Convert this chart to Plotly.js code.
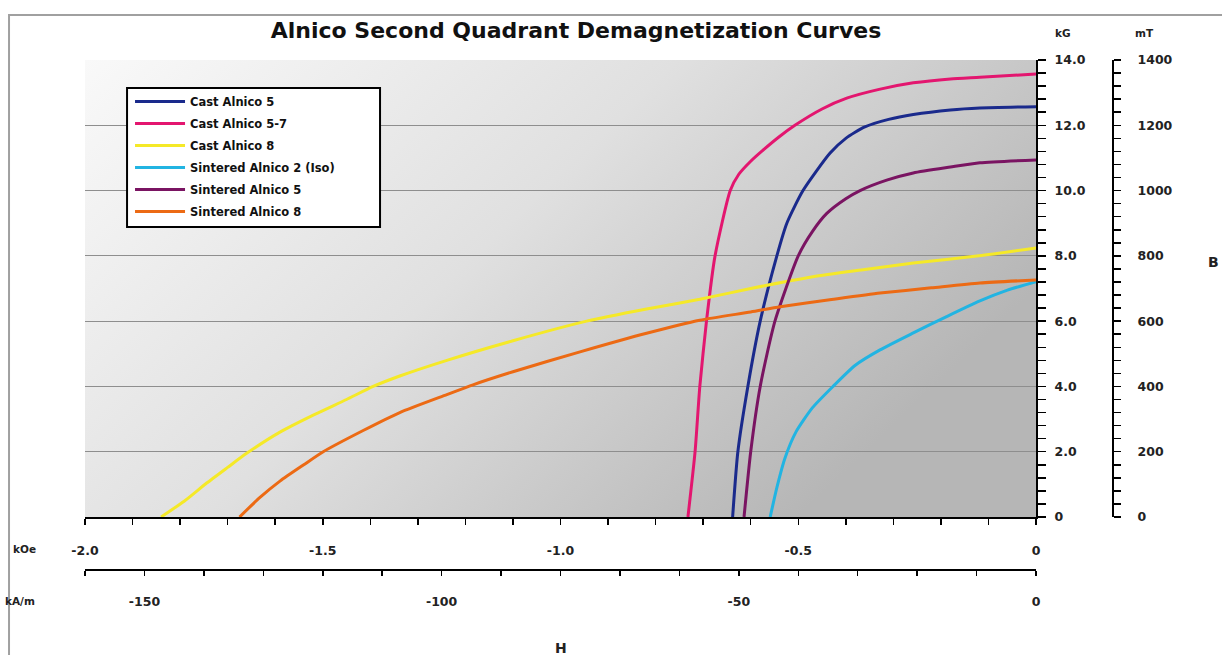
<!DOCTYPE html>
<html>
<head>
<meta charset="utf-8">
<script src="https://cdn.plot.ly/plotly-3.0.1.min.js"></script>
<style>html,body{margin:0;padding:0;background:#fff;}#chart{width:1222px;height:655px;}</style>
</head>
<body>
<div id="chart"></div>
<script>
// ---- Data (H in kOe, B in kG) ----
const seriesNames = ['Cast Alnico 5', 'Cast Alnico 5-7', 'Cast Alnico 8',
                     'Sintered Alnico 2 (Iso)', 'Sintered Alnico 5', 'Sintered Alnico 8'];
const seriesColors = ['#1a2a8c', '#e3166f', '#f5e928', '#22b4e2', '#7a1462', '#ec6a14'];

const castAlnico5_H  = [-0.638, -0.627, -0.606, -0.580, -0.545, -0.524, -0.490, -0.433, -0.400, -0.360, -0.310, -0.258, -0.180, -0.118, 0];
const castAlnico5_B  = [0, 2.0, 4.0, 6.0, 8.0, 9.0, 10.0, 11.15, 11.6, 11.95, 12.18, 12.33, 12.47, 12.53, 12.57];

const castAlnico57_H = [-0.732, -0.717, -0.707, -0.693, -0.675, -0.643, -0.625, -0.600, -0.574, -0.540, -0.507, -0.450, -0.398, -0.330, -0.258, -0.180, -0.118, 0];
const castAlnico57_B = [0, 2.0, 4.0, 6.0, 8.0, 10.0, 10.5, 10.9, 11.24, 11.65, 12.0, 12.5, 12.83, 13.1, 13.3, 13.42, 13.47, 13.57];

const castAlnico8_H  = [-1.840, -1.790, -1.744, -1.700, -1.660, -1.590, -1.520, -1.450, -1.394, -1.338, -1.239, -1.100, -0.945, -0.819, -0.707, -0.600, -0.469, -0.360, -0.258, -0.120, 0];
const castAlnico8_B  = [0, 0.5, 1.04, 1.52, 1.95, 2.6, 3.12, 3.6, 4.0, 4.32, 4.80, 5.40, 6.0, 6.37, 6.67, 7.0, 7.36, 7.58, 7.78, 8.0, 8.24];

const sintAlnico2_H  = [-0.559, -0.545, -0.528, -0.505, -0.470, -0.427, -0.380, -0.328, -0.258, -0.188, -0.118, -0.060, 0];
const sintAlnico2_B  = [0, 0.9, 1.8, 2.6, 3.35, 4.0, 4.65, 5.12, 5.64, 6.14, 6.62, 6.95, 7.21];

const sintAlnico5_H  = [-0.614, -0.600, -0.580, -0.549, -0.500, -0.470, -0.440, -0.400, -0.370, -0.314, -0.258, -0.180, -0.118, 0];
const sintAlnico5_B  = [0, 2.0, 4.0, 6.0, 8.0, 8.75, 9.3, 9.75, 10.0, 10.32, 10.54, 10.72, 10.85, 10.94];

const sintAlnico8_H  = [-1.675, -1.632, -1.590, -1.540, -1.499, -1.415, -1.338, -1.239, -1.184, -1.100, -0.959, -0.819, -0.707, -0.600, -0.538, -0.430, -0.328, -0.220, -0.118, 0];
const sintAlnico8_B  = [0, 0.6, 1.1, 1.6, 2.0, 2.65, 3.2, 3.75, 4.05, 4.45, 5.06, 5.63, 6.03, 6.28, 6.44, 6.66, 6.86, 7.02, 7.17, 7.26];

// ---- Tick labels ----
const kOeTickVals   = [-2.0, -1.5, -1.0, -0.5, 0];
const kOeTickText   = ['-2.0', '-1.5', '-1.0', '-0.5', '0'];
const kAmTickVals   = [-150, -100, -50, 0];
const kAmTickText   = ['-150', '-100', '-50', '0'];
const kGTickVals    = [0, 2, 4, 6, 8, 10, 12, 14];
const kGTickText    = ['0', '2.0', '4.0', '6.0', '8.0', '10.0', '12.0', '14.0'];
const mTTickVals    = [0, 200, 400, 600, 800, 1000, 1200, 1400];
const mTTickText    = ['0', '200', '400', '600', '800', '1000', '1200', '1400'];

const seriesH = [castAlnico5_H, castAlnico57_H, castAlnico8_H, sintAlnico2_H, sintAlnico5_H, sintAlnico8_H];
const seriesB = [castAlnico5_B, castAlnico57_B, castAlnico8_B, sintAlnico2_B, sintAlnico5_B, sintAlnico8_B];

const traces = seriesNames.map((name, i) => ({
  type: 'scatter', mode: 'lines', name: name,
  x: seriesH[i], y: seriesB[i], xaxis: 'x', yaxis: 'y',
  line: {color: seriesColors[i], width: 3, shape: 'spline', smoothing: 0.6},
  legendgroup: 'g' + i
}));
// empty trace so that the secondary (kA/m, mT) axes get their own subplot
traces.push({type: 'scatter', mode: 'lines', x: [], y: [], xaxis: 'x2', yaxis: 'y2', showlegend: false, hoverinfo: 'skip'});

const gradSvg = '<svg xmlns="http://www.w3.org/2000/svg" width="100" height="100" viewBox="0 0 100 100" preserveAspectRatio="none">' +
  '<defs><linearGradient id="g" x1="0" y1="0" x2="1" y2="0.5">' +
  '<stop offset="0" stop-color="#f9f9f9"/><stop offset="0.5" stop-color="#e0e0e0"/><stop offset="1" stop-color="#b6b6b6"/>' +
  '</linearGradient></defs><rect x="0" y="0" width="100" height="100" fill="url(#g)"/></svg>';
const gradUri = 'data:image/svg+xml;charset=utf-8,' + encodeURIComponent(gradSvg);

const FONT = 'DejaVu Sans, Verdana, sans-serif';
const tickBase = {
  showline: true, linecolor: '#000', linewidth: 2,
  ticks: 'outside', tickcolor: '#000', tickwidth: 1.5,
  tickmode: 'array', showgrid: false, zeroline: false, fixedrange: true,
  tickfont: {family: FONT, size: 12.5, color: '#222', weight: 'bold'}
};

const annBase = {xref: 'paper', yref: 'paper', showarrow: false, xanchor: 'center', yanchor: 'middle'};

const layout = {
  width: 1222, height: 655,
  margin: {l: 85, r: 109, t: 60, b: 85, pad: 0},
  paper_bgcolor: '#fff', plot_bgcolor: 'rgba(0,0,0,0)',
  font: {family: FONT, size: 11, color: '#222'},
  showlegend: true,
  title: {
    text: '<b>Alnico Second Quadrant Demagnetization Curves</b>',
    font: {family: FONT, size: 22, color: '#111'},
    xref: 'container', yref: 'container', x: 0.4714, y: 0.954, xanchor: 'center', yanchor: 'middle'
  },
  xaxis: Object.assign({}, tickBase, {
    domain: [0, 0.9251], range: [-2, 0], anchor: 'y',
    tickvals: kOeTickVals, ticktext: kOeTickText, ticklen: 6, ticklabelstandoff: 15,
    minor: {dtick: 0.1, tick0: 0, ticks: 'outside', ticklen: 6, tickwidth: 1.5, tickcolor: '#000', showgrid: false}
  }),
  xaxis2: Object.assign({}, tickBase, {
    overlaying: 'x', anchor: 'free', position: 0, side: 'bottom', range: [-160, 0],
    tickvals: kAmTickVals, ticktext: kAmTickText, ticklen: 5, ticklabelstandoff: 15,
    minor: {dtick: 10, tick0: 0, ticks: 'outside', ticklen: 5, tickwidth: 1.5, tickcolor: '#000', showgrid: false}
  }),
  yaxis: Object.assign({}, tickBase, {
    domain: [0.1039, 1], range: [0, 14], anchor: 'x', side: 'right',
    tickvals: kGTickVals, ticktext: kGTickText, ticklen: 8, ticklabelstandoff: 6,
    showgrid: true, gridcolor: '#8e8e8e', gridwidth: 1,
    minor: {dtick: 0.4, tick0: 0, ticks: 'outside', ticklen: 8, tickwidth: 1.5, tickcolor: '#000', showgrid: false}
  }),
  yaxis2: Object.assign({}, tickBase, {
    overlaying: 'y', anchor: 'free', position: 1, side: 'right', range: [0, 1400],
    tickvals: mTTickVals, ticktext: mTTickText, ticklen: 7, ticklabelstandoff: 14,
    minor: {dtick: 40, tick0: 0, ticks: 'outside', ticklen: 7, tickwidth: 1.5, tickcolor: '#000', showgrid: false}
  }),
  legend: {
    x: 0.0438, y: 0.947, xanchor: 'left', yanchor: 'top',
    bgcolor: 'rgba(0,0,0,0)', borderwidth: 0,
    font: {family: FONT, size: 11.5, color: '#111', weight: 'bold'},
    traceorder: 'grouped', tracegroupgap: 3, itemwidth: 50
  },
  images: [{
    source: gradUri, xref: 'x', yref: 'y', x: -2, y: 14, sizex: 2, sizey: 14,
    sizing: 'stretch', layer: 'below', xanchor: 'left', yanchor: 'top'
  }],
  shapes: [
    {type: 'rect', xref: 'paper', yref: 'paper', x0: -0.0739, x1: 1.3, y0: -0.3, y1: 1.0882,
     line: {color: '#a0a0a0', width: 2}, fillcolor: 'rgba(0,0,0,0)'},
    // legend frame
    {type: 'rect', xref: 'paper', yref: 'paper', x0: 0.0409, x1: 0.2870, y0: 0.6725, y1: 0.9451,
     line: {color: '#000', width: 2}, fillcolor: '#fff', layer: 'above'}
  ],
  annotations: [
    Object.assign({}, annBase, {text: '<b>kG</b>', x: 0.9514, y: 1.0529, font: {size: 10.5, color: '#222'}}),
    Object.assign({}, annBase, {text: '<b>mT</b>', x: 1.0311, y: 1.0529, font: {size: 10.5, color: '#222'}}),
    Object.assign({}, annBase, {text: '<b>B</b>', x: 1.0973, y: 0.6039, font: {size: 14, color: '#222'}}),
    Object.assign({}, annBase, {text: '<b>H</b>', x: 0.4630, y: -0.1529, font: {size: 14, color: '#222'}}),
    Object.assign({}, annBase, {text: '<b>kOe</b>', x: -0.0584, y: 0.0412, font: {size: 10.5, color: '#222'}}),
    Object.assign({}, annBase, {text: '<b>kA/m</b>', x: -0.0632, y: -0.0608, font: {size: 10.5, color: '#222'}})
  ]
};

Plotly.newPlot('chart', traces, layout, {displayModeBar: false, staticPlot: true});
</script>
</body>
</html>
